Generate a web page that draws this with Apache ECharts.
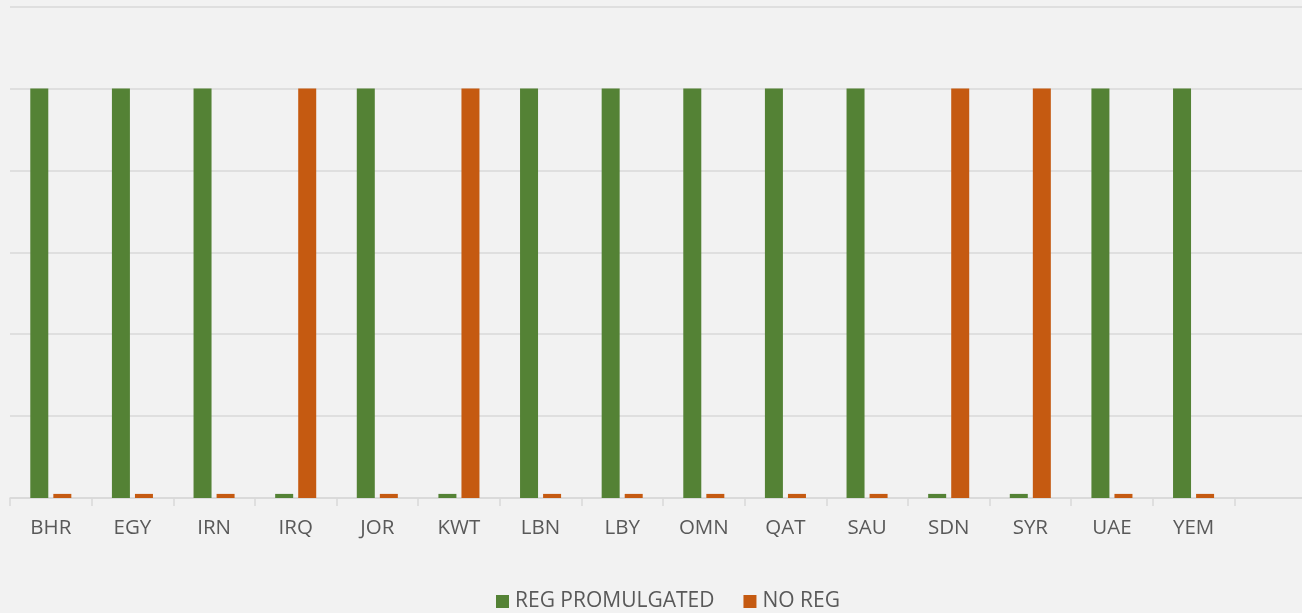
<!DOCTYPE html>
<html><head><meta charset="utf-8">
<script src="https://cdn.jsdelivr.net/npm/echarts@6/dist/echarts.min.js"></script>
<style>html,body{margin:0;padding:0;background:#f2f2f2;}#c{width:1302px;height:613px;}</style>
</head><body><div id="c"></div>
<script>
const categories = ['BHR','EGY','IRN','IRQ','JOR','KWT','LBN','LBY','OMN','QAT','SAU','SDN','SYR','UAE','YEM',''];
const regPromulgated = [1,1,1,0.01,1,0.01,1,1,1,1,1,0.01,0.01,1,1,null];
const noReg = [0.01,0.01,0.01,1,0.01,1,0.01,0.01,0.01,0.01,0.01,1,1,0.01,0.01,null];
const seriesNames = ['REG PROMULGATED','NO REG'];

const chart = echarts.init(document.getElementById('c'), null, {renderer:'canvas'});
chart.setOption({
  backgroundColor:'#f2f2f2',
  animation:false,
  grid:{left:10, width:1306, top:6.5, height:491.5, containLabel:false, outerBoundsMode:'none'},
  xAxis:{type:'category', data:categories,
    axisLine:{lineStyle:{color:'#d9d9d9', width:1.5}},
    axisTick:{show:true, length:8, lineStyle:{color:'#d9d9d9', width:1.5}},
    axisLabel:{color:'#595959', fontSize:20.5, fontFamily:'Open Sans', margin:20}},
  yAxis:{type:'value', min:0, max:1.2, interval:0.2,
    axisLabel:{show:false}, axisLine:{show:false}, axisTick:{show:false},
    splitLine:{lineStyle:{color:'#d9d9d9', width:1.5}}},
  legend:{top:591, left:496, padding:0, itemWidth:13, itemHeight:13, itemGap:29,
    icon:'rect', textStyle:{color:'#595959', fontSize:21, fontFamily:'Open Sans', padding:[0,0,0,1]},
    data:seriesNames},
  series:[
    {name:seriesNames[0], type:'bar', data:regPromulgated, barWidth:18, barGap:'28%',
     itemStyle:{color:'#548235'}},
    {name:seriesNames[1], type:'bar', data:noReg, barWidth:18,
     itemStyle:{color:'#c55a11'}}
  ]
});
</script></body></html>
